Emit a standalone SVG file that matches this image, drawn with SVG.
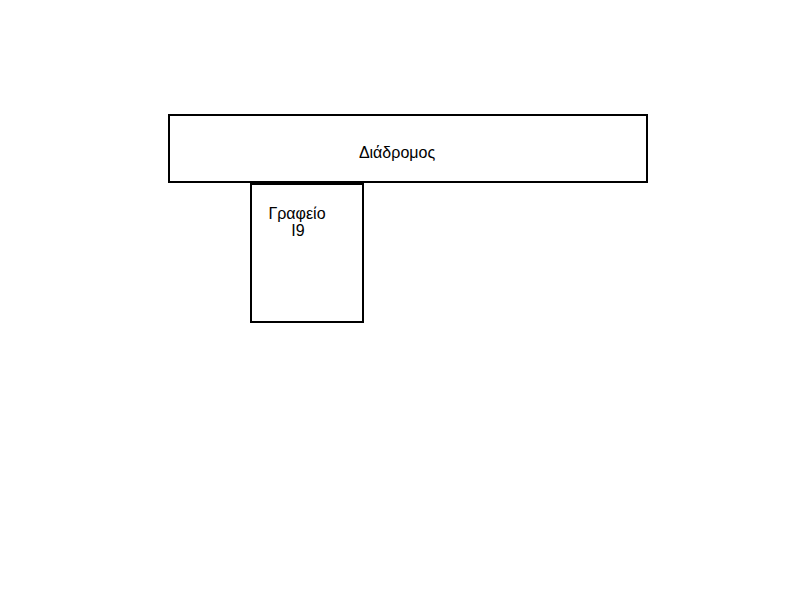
<svg xmlns="http://www.w3.org/2000/svg" width="800" height="600" viewBox="0 0 800 600">
<style>
.room{fill:#fff;stroke:#000;stroke-width:2}
.lbl{font-family:"Liberation Sans",Arial,sans-serif;font-size:16px;fill:#000;text-anchor:middle}
</style>
<rect width="800" height="600" fill="#fff"/>
<g id="corridor">
<rect class="room" x="169" y="115" width="478" height="67"/>
<text class="lbl" x="397" y="158">Διάδρομος</text>
</g>
<g id="office-i9">
<rect class="room" x="251" y="184" width="112" height="138"/>
<text class="lbl" x="297" y="219">Γραφείο</text>
<text class="lbl" x="298" y="236">I9</text>
</g>
<g id="connectors"/>
</svg>
